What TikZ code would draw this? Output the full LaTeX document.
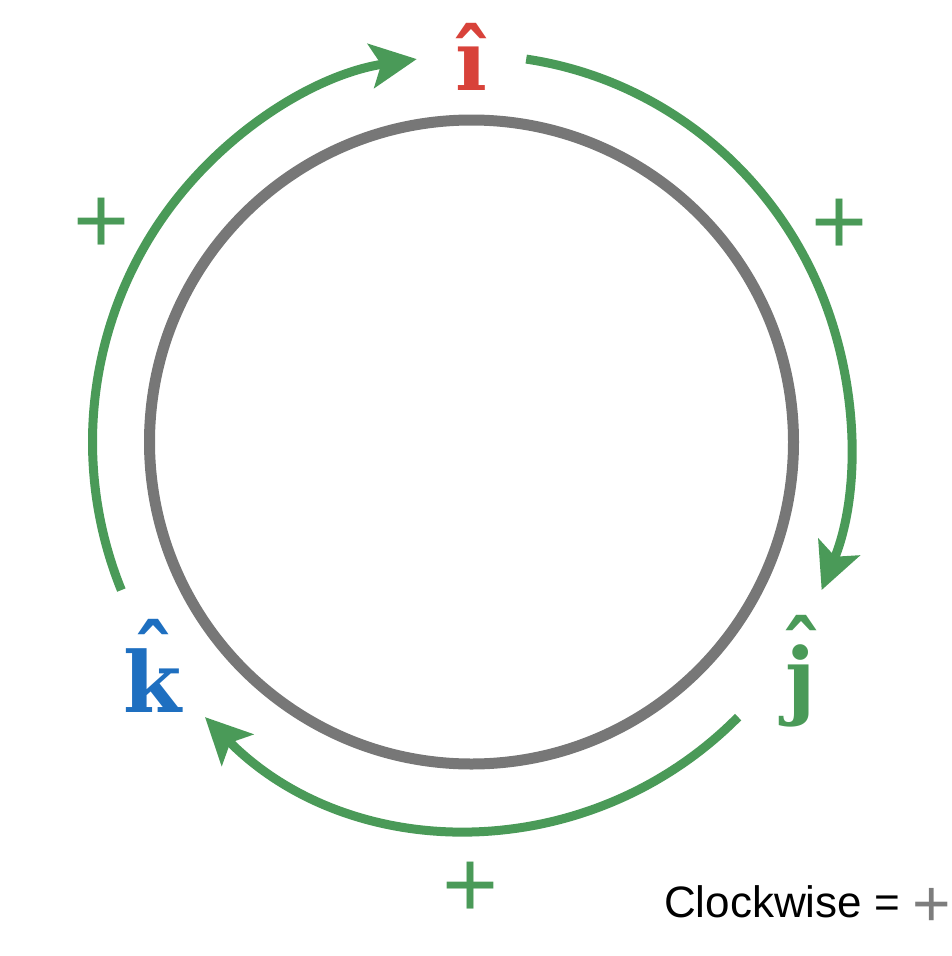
\documentclass[tikz,border=0pt]{standalone}
\usepackage{fontspec}
\setmainfont{DejaVu Serif}
\setsansfont{Liberation Sans}
\usetikzlibrary{arrows.meta,calc}
\definecolor{cgreen}{RGB}{74,154,88}
\definecolor{cred}{RGB}{216,66,58}
\definecolor{cblue}{RGB}{30,111,192}
\definecolor{cgray}{RGB}{119,119,119}
\definecolor{pgray}{RGB}{125,125,125}
\newcommand\hatlet[2]{\ooalign{#2\cr\hidewidth\raisebox{#1}{ˆ}\hidewidth\cr}}
\begin{document}
\begin{tikzpicture}[x=1pt,y=1pt,
  vec/.style={inner sep=0pt, anchor=base, font=\fontsize{84}{84}\selectfont\bfseries},
  garc/.style={draw=cgreen, line width=9pt, -{Stealth[length=46pt,width=44pt,inset=10pt]}},
  plussign/.style={inner sep=0pt, anchor=base, text=cgreen, font=\sffamily\fontsize{96}{96}\selectfont},
]
\useasboundingbox (0,0) rectangle (952,-956);
\coordinate (C) at (471.5,-442);
\node[draw=cgray, line width=11pt, circle, minimum size=644pt, inner sep=0pt] (ring) at (C) {};

\coordinate (a1s) at ($(C)+(202.5:379pt and 387pt)$);
\coordinate (a2s) at ($(C)+(81.7:379pt and 387pt)$);
\coordinate (a3s) at ($(C)+(-45.3:379pt and 387pt)$);
\draw[garc] (a1s) arc[start angle=202.5, end angle=98.3, x radius=379pt, y radius=387pt];
\draw[garc] (a2s) arc[start angle=81.7, end angle=-22.5, x radius=379pt, y radius=387pt];
\draw[garc] (a3s) arc[start angle=-45.3, end angle=-134.7, x radius=379pt, y radius=387pt];

\node[vec, text=cred] (i) at (471.5,-90) {î};
\node[vec, text=cgreen] (j) at (801,-708) {\hatlet{26pt}{j}};
\node[vec, text=cblue] (k) at (153,-712) {\hatlet{26pt}{k}};

\node[plussign] (p1) at (101.7,-253) {+};
\node[plussign] (p2) at (840,-254) {+};
\node[plussign] (p3) at (471,-917) {+};

\node[anchor=base west, inner sep=0pt, font=\sffamily\fontsize{44}{44}\selectfont] (cw) at (664,-917) {Clockwise = \textcolor{pgray}{\raisebox{-9.5pt}{\fontsize{66}{66}\selectfont +}}};
\end{tikzpicture}
\end{document}
